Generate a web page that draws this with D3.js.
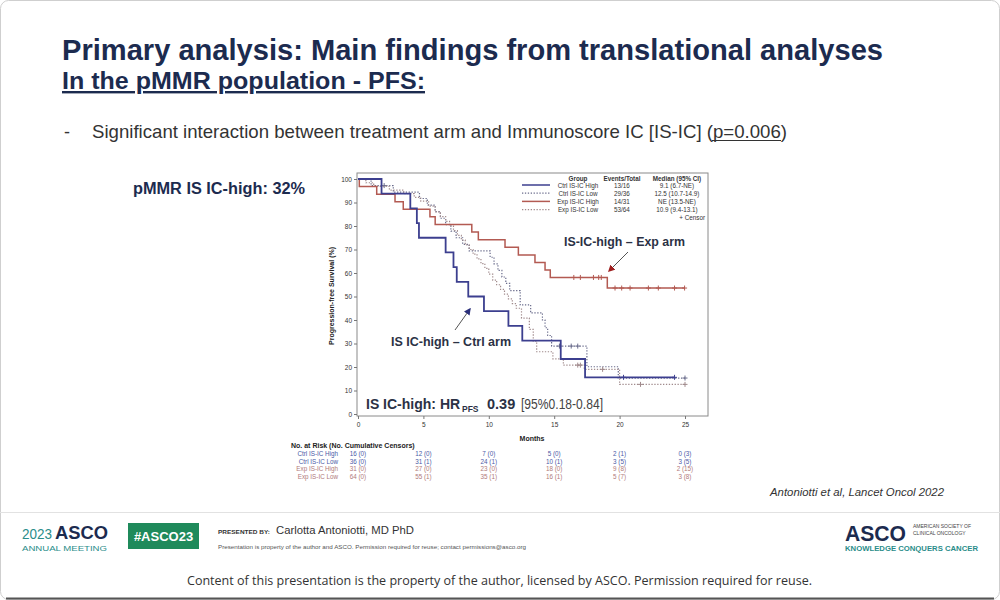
<!DOCTYPE html>
<html>
<head>
<meta charset="utf-8">
<script src="https://cdn.jsdelivr.net/npm/d3@7/dist/d3.min.js"></script>
<style>
  body { margin: 0; background: #fff; }
  text { font-family: "Liberation Sans", Arial, sans-serif; }
</style>
</head>
<body>
<script>

var width = 1000,
    height = 600;

// ---- data ----
var groups = ['Ctrl IS-IC High', 'Ctrl IS-IC Low', 'Exp IS-IC High', 'Exp IS-IC Low'];
var eventsTotal = ['13/16', '29/36', '14/31', '53/64'];
var medians = ['9.1 (6.7-NE)', '12.5 (10.7-14.9)', 'NE (13.5-NE)', '10.9 (9.4-13.1)'];

var ctrlHighT = [0, 1.8, 4.0, 4.5, 4.66, 6.7, 7.3, 7.55, 8.43, 9.63, 11.5, 12.56, 15.5, 17.36];
var ctrlHighS = [100, 93.75, 87.5, 81.25, 75, 68.75, 62.5, 56.25, 50, 43.75, 37.5, 31.25, 23.4, 15.6];
var ctrlHighEnd = 24.2;
var ctrlHighCens = [20.3, 24.2];

var ctrlLowT = [0, 1.0, 2.7, 4.7, 5.3, 5.9, 6.3, 6.7, 7.1, 7.5, 8.0, 8.5, 10.1, 10.4, 10.7, 11.0, 11.3, 11.6, 12.4, 13.2, 14.1, 14.3, 14.5, 14.8, 17.5, 19.9];
var ctrlLowS = [100, 97.2, 94.4, 91.7, 88.9, 86.1, 83.3, 80.6, 77.8, 75.0, 72.2, 69.4, 66.7, 63.9, 61.1, 58.3, 55.6, 52.5, 46.4, 43.0, 40.0, 36.7, 33.4, 28.9, 20.1, 15.3];
var ctrlLowEnd = 25;
var ctrlLowCens = [2.0, 15.4, 16.3, 16.8, 25];

var expHighT = [0, 0.1, 1.43, 2.83, 3.46, 5.5, 5.9, 8.7, 9.2, 11.24, 12.26, 13.53, 14.3, 14.7, 19.06];
var expHighS = [100, 96.8, 93.5, 90.3, 87.1, 83.9, 80.6, 77.4, 74.2, 71.0, 67.7, 64.5, 61.3, 58.1, 53.6];
var expHighEnd = 25;
var expHighCens = [16.5, 17.0, 18.0, 18.4, 18.6, 19.65, 20.16, 20.8, 22.2, 22.96, 24.2, 24.97];

var expLowT = [0, 0.6, 1.2, 2.4, 3.5, 4.3, 4.8, 5.4, 5.9, 6.3, 6.7, 7.0, 7.3, 7.6, 7.9, 8.2, 8.5, 8.8, 9.1, 9.4, 9.7, 10.0, 10.3, 10.6, 10.9, 11.2, 11.5, 11.8, 12.1, 12.5, 13.1, 13.4, 13.66, 14.9, 15.7, 17.3, 20.0];
var expLowS = [100, 98.4, 96.9, 95.3, 93.8, 92.2, 90.6, 88.5, 86.0, 84.0, 82.0, 80.0, 78.0, 76.0, 74.0, 72.0, 70.0, 68.0, 66.0, 64.0, 62.0, 59.5, 57.0, 55.0, 53.0, 51.0, 49.0, 47.0, 45.0, 40.8, 36.0, 31.0, 26.5, 23.5, 20.8, 19.0, 12.6];
var expLowEnd = 25;
var expLowCens = [16.8, 17.0, 18.7, 21.6, 25];

var xTicks = [0, 5, 10, 15, 20, 25];
var yTicks = [0, 10, 20, 30, 40, 50, 60, 70, 80, 90, 100];

var atRisk = [
    ['16 (0)', '12 (0)', '7 (0)', '5 (0)', '2 (1)', '0 (3)'],
    ['36 (0)', '31 (1)', '24 (1)', '10 (1)', '3 (5)', '3 (5)'],
    ['31 (0)', '27 (0)', '23 (0)', '18 (0)', '9 (8)', '2 (15)'],
    ['64 (0)', '55 (1)', '35 (1)', '16 (1)', '5 (7)', '3 (8)']
];

var navy = '#1c2b4f';
var colCtrlHigh = '#3c3f8f',
    colCtrlLow = '#6a6c8c',
    colExpHigh = '#b35a52',
    colExpLow = '#a08a8c';

var svg = d3.select('body')
    .append('svg')
    .attr('width', width)
    .attr('height', height)
    .style('display', 'block');

svg.append('rect')
    .attr('x', 0.5).attr('y', 0.5)
    .attr('width', width - 1).attr('height', height - 1)
    .attr('rx', 8)
    .style('fill', '#fff')
    .style('stroke', '#cfcfcf');

// squeeze a text to a measured width
var fit = function(sel, w) {
    sel.attr('textLength', w).attr('lengthAdjust', 'spacingAndGlyphs');
    return sel;
};

// ---- slide texts ----
fit(svg.append('text')
    .attr('x', 62).attr('y', 60)
    .style('font-size', '29px').style('font-weight', 'bold')
    .style('fill', navy)
    .text('Primary analysis: Main findings from translational analyses'), 821);

fit(svg.append('text')
    .attr('x', 62).attr('y', 89)
    .style('font-size', '24px').style('font-weight', 'bold')
    .style('fill', navy)
    .style('text-decoration', 'underline')
    .text('In the pMMR population - PFS:'), 363);

svg.append('text')
    .attr('x', 64).attr('y', 138)
    .style('font-size', '18px').style('fill', '#333')
    .text('-');

fit(svg.append('text')
    .attr('x', 92).attr('y', 138)
    .style('font-size', '19px').style('fill', '#333')
    .text('Significant interaction between treatment arm and Immunoscore IC [IS-IC] (p=0.006)'), 695);
// underline under p=0.006
svg.append('line')
    .attr('x1', 712).attr('x2', 781)
    .attr('y1', 140.5).attr('y2', 140.5)
    .style('stroke', '#333').style('stroke-width', 1.2);

fit(svg.append('text')
    .attr('x', 133).attr('y', 194)
    .style('font-size', '16px').style('font-weight', 'bold')
    .style('fill', navy)
    .text('pMMR IS IC-high: 32%'), 172);

// ---- KM plot ----
var x = d3.scaleLinear().domain([0, 25]).range([358, 685]);
var y = d3.scaleLinear().domain([0, 100]).range([414, 179]);

var plot = svg.append('g');

plot.append('rect')
    .attr('x', 357).attr('y', 173)
    .attr('width', 351).attr('height', 243)
    .style('fill', 'none')
    .style('stroke', '#8a8a8a')
    .style('stroke-width', 1);

var xAxis = plot.append('g')
    .attr('transform', 'translate(0,416)')
    .call(d3.axisBottom(x).tickValues(xTicks).tickSize(3).tickPadding(3));
var yAxis = plot.append('g')
    .attr('transform', 'translate(357,0)')
    .call(d3.axisLeft(y).tickValues(yTicks).tickSize(3).tickPadding(2));

[xAxis, yAxis].forEach(function(a) {
    a.select('.domain').remove();
    a.selectAll('line').style('stroke', '#777');
    a.selectAll('text')
        .style('font-family', '"Liberation Sans", Arial, sans-serif')
        .style('font-size', '6.5px')
        .style('fill', '#333');
});

plot.append('text')
    .attr('transform', 'translate(334,296) rotate(-90)')
    .attr('text-anchor', 'middle')
    .style('font-size', '7px').style('font-weight', 'bold').style('fill', '#222')
    .text('Progression-free Survival (%)');

plot.append('text')
    .attr('x', 532).attr('y', 441)
    .attr('text-anchor', 'middle')
    .style('font-size', '7px').style('font-weight', 'bold').style('fill', '#222')
    .text('Months');

var curves = [
    {name: 'ctrlLow', t: ctrlLowT, s: ctrlLowS, end: ctrlLowEnd, cens: ctrlLowCens, color: colCtrlLow, w: 1.2, dash: '1.3,1.6'},
    {name: 'expLow', t: expLowT, s: expLowS, end: expLowEnd, cens: expLowCens, color: colExpLow, w: 1.2, dash: '1.3,1.6'},
    {name: 'expHigh', t: expHighT, s: expHighS, end: expHighEnd, cens: expHighCens, color: colExpHigh, w: 1.5, dash: null},
    {name: 'ctrlHigh', t: ctrlHighT, s: ctrlHighS, end: ctrlHighEnd, cens: ctrlHighCens, color: colCtrlHigh, w: 1.8, dash: null}
];

var line = d3.line()
    .x(function(d) { return x(d[0]); })
    .y(function(d) { return y(d[1]); })
    .curve(d3.curveStepAfter);

var survAt = function(c, t) {
    var v = c.s[0];
    c.t.forEach(function(tt, i) { if (tt <= t) v = c.s[i]; });
    return v;
};

curves.forEach(function(c) {
    var pts = c.t.map(function(t, i) { return [t, c.s[i]]; });
    pts.push([c.end, c.s[c.s.length - 1]]);
    plot.append('path')
        .datum(pts)
        .attr('d', line)
        .style('fill', 'none')
        .style('stroke', c.color)
        .style('stroke-width', c.w)
        .style('stroke-dasharray', c.dash);

    plot.selectAll('path.cens-' + c.name)
        .data(c.cens)
        .enter()
        .append('path')
        .classed('cens-' + c.name, true)
        .attr('transform', function(d) {
            return 'translate(' + x(d) + ',' + y(survAt(c, d)) + ')';
        })
        .attr('d', 'M-2.5,0H2.5M0,-2.5V2.5')
        .style('stroke', c.color)
        .style('stroke-width', 1);
});

// legend
var legCols = [colCtrlHigh, colCtrlLow, colExpHigh, colExpLow];
var legDash = [null, '1.3,1.6', null, '1.3,1.6'];
var legY0 = 187, legDy = 8.2;

var leg = plot.append('g').style('font-size', '6.3px').style('fill', '#333');
leg.append('text').attr('x', 578).attr('y', 181).attr('text-anchor', 'middle')
    .style('font-weight', 'bold').text('Group');
leg.append('text').attr('x', 622).attr('y', 181).attr('text-anchor', 'middle')
    .style('font-weight', 'bold').text('Events/Total');
leg.append('text').attr('x', 677).attr('y', 181).attr('text-anchor', 'middle')
    .style('font-weight', 'bold').text('Median (95% CI)');

groups.forEach(function(g, i) {
    var yy = legY0 + i * legDy;
    leg.append('line')
        .attr('x1', 522).attr('x2', 550)
        .attr('y1', yy - 2).attr('y2', yy - 2)
        .style('stroke', legCols[i])
        .style('stroke-width', legDash[i] ? 1.2 : 1.5)
        .style('stroke-dasharray', legDash[i]);
    leg.append('text').attr('x', 578).attr('y', yy + 0.5).attr('text-anchor', 'middle').text(g);
    leg.append('text').attr('x', 622).attr('y', yy + 0.5).attr('text-anchor', 'middle').text(eventsTotal[i]);
    leg.append('text').attr('x', 677).attr('y', yy + 0.5).attr('text-anchor', 'middle').text(medians[i]);
});
leg.append('text').attr('x', 705).attr('y', legY0 + 4 * legDy + 0.5)
    .attr('text-anchor', 'end').text('+  Censor');

// annotations
var defs = svg.append('defs');
[['arrNavy', '#2a2f7a'], ['arrRed', '#9e1f1f']].forEach(function(a) {
    defs.append('marker')
        .attr('id', a[0])
        .attr('viewBox', '0 0 10 10')
        .attr('refX', 8).attr('refY', 5)
        .attr('markerWidth', 7).attr('markerHeight', 7)
        .attr('orient', 'auto')
        .append('path')
        .attr('d', 'M0,0L10,5L0,10Z')
        .style('fill', a[1]);
});

fit(plot.append('text')
    .attr('x', 564).attr('y', 246)
    .style('font-size', '13.5px').style('font-weight', 'bold').style('fill', '#2b3145')
    .text('IS-IC-high \u2013 Exp arm'), 121);

plot.append('line')
    .attr('x1', 628).attr('y1', 252).attr('x2', 609).attr('y2', 271)
    .attr('marker-end', 'url(#arrRed)')
    .style('stroke', '#555').style('stroke-width', 1);

fit(plot.append('text')
    .attr('x', 391).attr('y', 346)
    .style('font-size', '13.5px').style('font-weight', 'bold').style('fill', '#2b3145')
    .text('IS IC-high \u2013 Ctrl arm'), 120);

plot.append('line')
    .attr('x1', 455).attr('y1', 330).attr('x2', 470).attr('y2', 309)
    .attr('marker-end', 'url(#arrNavy)')
    .style('stroke', '#555').style('stroke-width', 1);

// HR label: main part, subscript and CI as separate texts (natural widths)
plot.append('text')
    .attr('x', 366).attr('y', 409)
    .style('font-size', '14px').style('font-weight', 'bold').style('fill', '#2b3145')
    .text('IS IC-high: HR');
plot.append('text')
    .attr('x', 462).attr('y', 412)
    .style('font-size', '8.5px').style('font-weight', 'bold').style('fill', '#2b3145')
    .text('PFS');
plot.append('text')
    .attr('x', 487).attr('y', 409)
    .style('font-size', '14.5px').style('font-weight', 'bold').style('fill', '#2b3145')
    .text('0.39');
fit(plot.append('text')
    .attr('x', 521).attr('y', 409)
    .style('font-size', '14px').style('fill', '#444')
    .text('[95%0.18-0.84]'), 82);

// number at risk
var riskCols = ['#4b5aa6', '#4b5aa6', '#b07a7a', '#b07a7a'];
var risk = svg.append('g').style('font-size', '6.3px');
risk.append('text')
    .attr('x', 291).attr('y', 448)
    .style('font-size', '7px').style('font-weight', 'bold').style('fill', '#222')
    .text('No. at Risk (No. Cumulative Censors)');

var riskY = [456, 463.5, 471, 478.5];
groups.forEach(function(g, i) {
    risk.append('text')
        .attr('x', 338).attr('y', riskY[i])
        .attr('text-anchor', 'end')
        .style('fill', riskCols[i])
        .text(g);
    risk.selectAll('text.r' + i)
        .data(atRisk[i])
        .enter()
        .append('text')
        .classed('r' + i, true)
        .attr('x', function(d, j) { return x(xTicks[j]); })
        .attr('y', riskY[i])
        .attr('text-anchor', 'middle')
        .style('fill', riskCols[i])
        .text(function(d) { return d; });
});

fit(svg.append('text')
    .attr('x', 770).attr('y', 496)
    .style('font-size', '11px').style('font-style', 'italic').style('fill', '#333')
    .text('Antoniotti et al, Lancet Oncol 2022'), 174);

// ---- footer ----
svg.append('line')
    .attr('x1', 0).attr('x2', width)
    .attr('y1', 512.5).attr('y2', 512.5)
    .style('stroke', '#e2e2e2');

var teal = '#2a8d8a';
fit(svg.append('text').attr('x', 22).attr('y', 539)
    .style('font-size', '14px').style('fill', teal)
    .text('2023'), 30);
fit(svg.append('text').attr('x', 55).attr('y', 539)
    .style('font-size', '18px').style('font-weight', 'bold').style('fill', navy)
    .text('ASCO'), 53);
fit(svg.append('text').attr('x', 22).attr('y', 551)
    .style('font-size', '8px').style('fill', teal)
    .text('ANNUAL MEETING'), 85);

svg.append('rect')
    .attr('x', 128).attr('y', 523)
    .attr('width', 71).attr('height', 26)
    .style('fill', '#1f8a5b');
svg.append('text')
    .attr('x', 163.5).attr('y', 541)
    .attr('text-anchor', 'middle')
    .style('font-size', '13px').style('font-weight', 'bold').style('fill', '#fff')
    .text('#ASCO23');

fit(svg.append('text').attr('x', 218).attr('y', 534)
    .style('font-size', '5.5px').style('font-weight', 'bold').style('fill', '#333')
    .text('PRESENTED BY:'), 52);
fit(svg.append('text').attr('x', 276).attr('y', 534)
    .style('font-size', '11px').style('fill', '#333')
    .text('Carlotta Antoniotti, MD PhD'), 138);
fit(svg.append('text').attr('x', 218).attr('y', 549)
    .style('font-size', '5.5px').style('fill', '#555')
    .text('Presentation is property of the author and ASCO. Permission required for reuse; contact permissions@asco.org'), 308);

fit(svg.append('text').attr('x', 845).attr('y', 541)
    .style('font-size', '22px').style('font-weight', 'bold').style('fill', navy)
    .text('ASCO'), 61);
svg.append('text').attr('x', 913).attr('y', 528)
    .style('font-size', '5px').style('fill', '#444')
    .text('AMERICAN SOCIETY OF');
svg.append('text').attr('x', 913).attr('y', 535)
    .style('font-size', '5px').style('fill', '#444')
    .text('CLINICAL ONCOLOGY');
fit(svg.append('text').attr('x', 845).attr('y', 551)
    .style('font-size', '7.5px').style('font-weight', 'bold').style('fill', teal)
    .text('KNOWLEDGE CONQUERS CANCER'), 133);

fit(svg.append('text')
    .attr('x', 187).attr('y', 585)
    .style('font-family', '"Open Sans", sans-serif')
    .style('font-size', '13px').style('fill', '#333')
    .text('Content of this presentation is the property of the author, licensed by ASCO. Permission required for reuse.'), 625);

svg.append('line')
    .attr('x1', 6).attr('x2', width - 6)
    .attr('y1', 598.5).attr('y2', 598.5)
    .style('stroke', '#555').style('stroke-width', 2);

</script>
</body>
</html>
